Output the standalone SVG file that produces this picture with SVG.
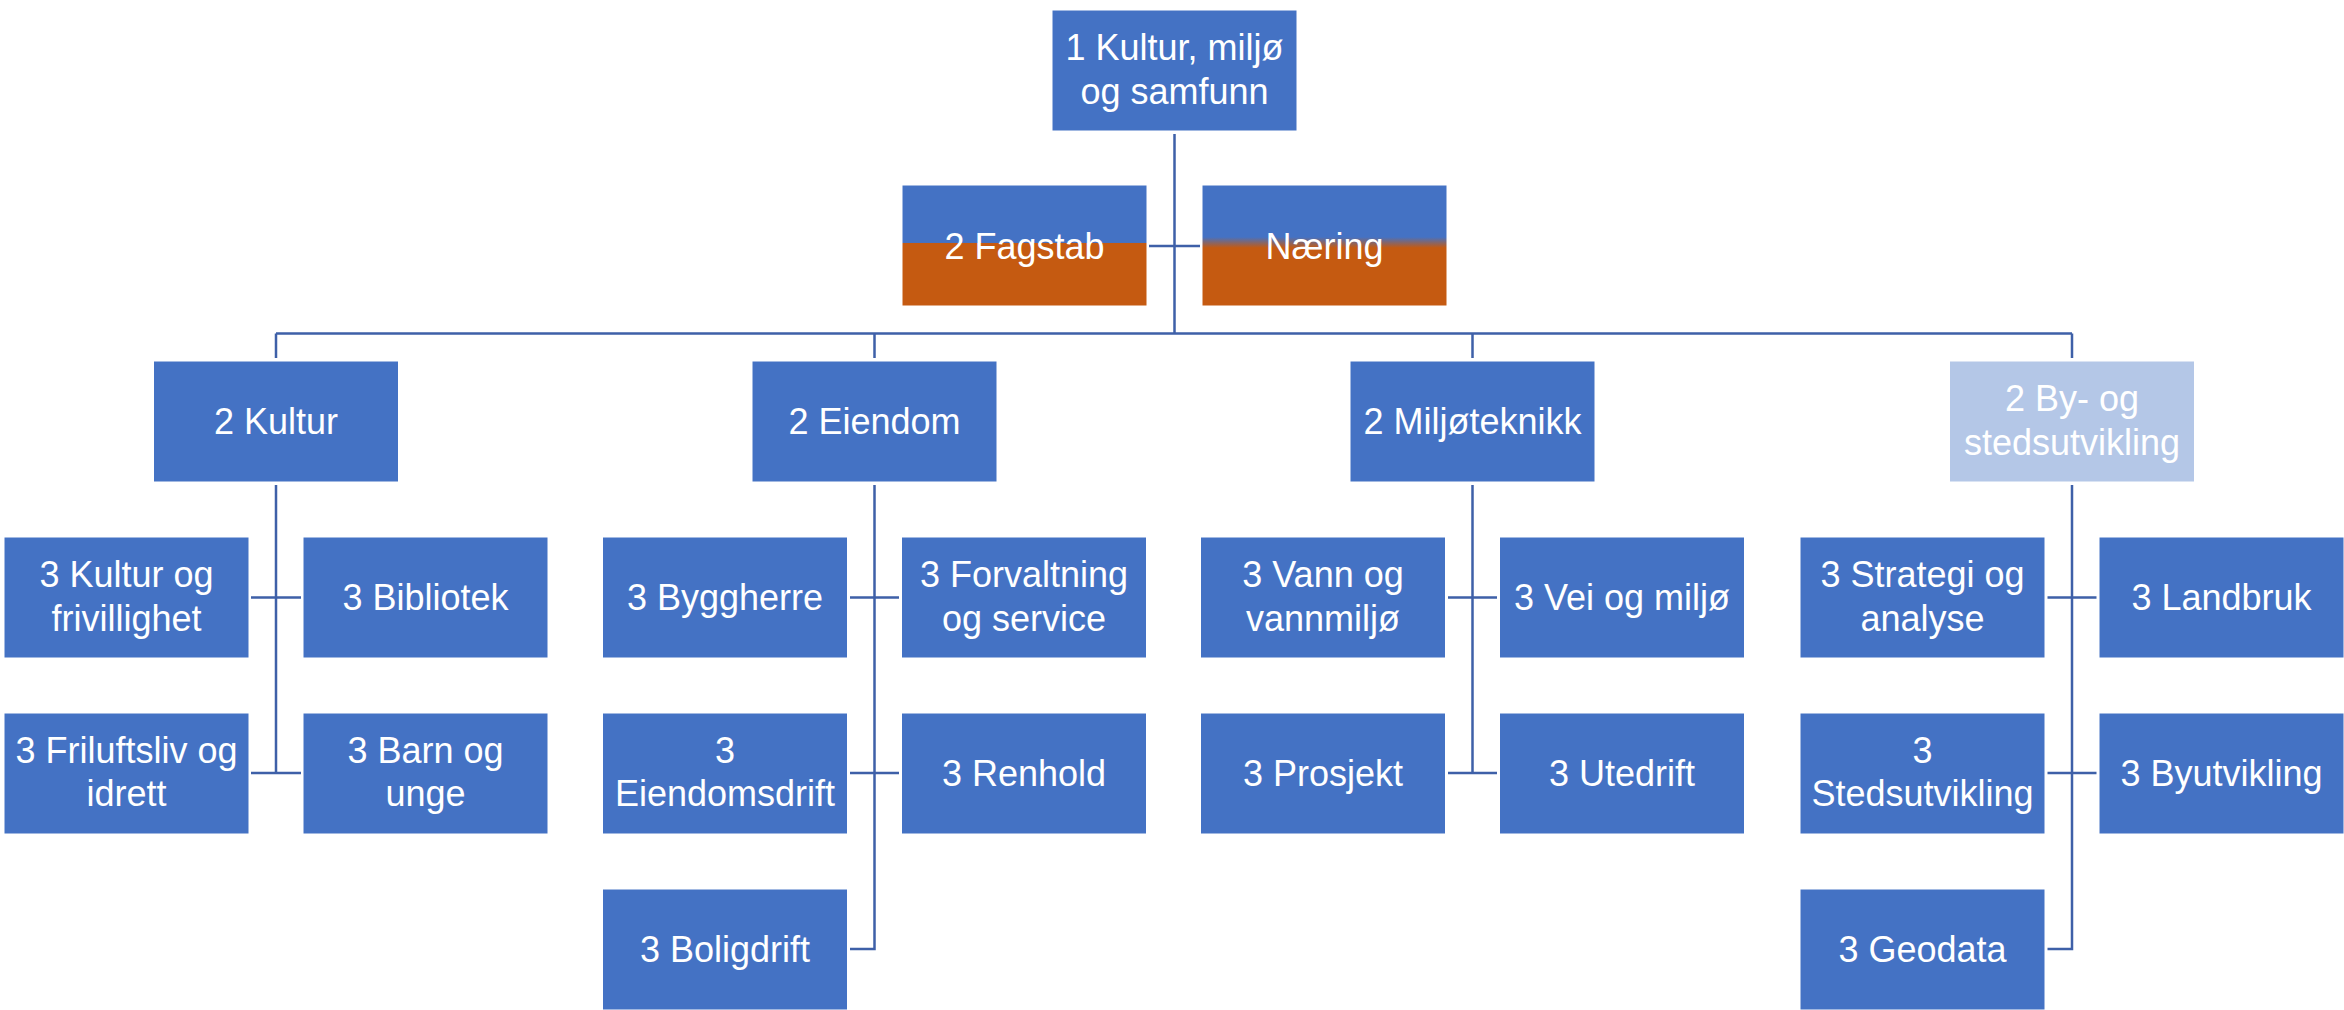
<svg xmlns="http://www.w3.org/2000/svg" width="2344" height="1010" viewBox="0 0 2344 1010">
<defs>
<linearGradient id="gFag" x1="0" y1="0" x2="0" y2="1">
<stop offset="0" stop-color="#4472C4"/><stop offset="0.475" stop-color="#4472C4"/><stop offset="0.48" stop-color="#C55A11"/><stop offset="1" stop-color="#C55A11"/>
</linearGradient>
<linearGradient id="gNaer" x1="0" y1="0" x2="0" y2="1">
<stop offset="0" stop-color="#4472C4"/><stop offset="0.43" stop-color="#4472C4"/><stop offset="0.52" stop-color="#C55A11"/><stop offset="1" stop-color="#C55A11"/>
</linearGradient>
</defs>
<style>
.b{fill:#4472C4;stroke:#ffffff;stroke-width:1}
.lt{fill:#B4C7E7;stroke:#ffffff;stroke-width:1}
.t{font-family:"Liberation Sans",Arial,sans-serif;font-size:36px;fill:#ffffff;text-anchor:middle}
.c{fill:none;stroke:#3E60A8;stroke-width:2.5}
</style>
<g id="connectors">
<path class="c" d="M1174.5 134V333.5M276 333.5H2072M276 333.5V358M874.5 333.5V358M1472.5 333.5V358M2072 333.5V358M1149 246H1200"/>
<path class="c" d="M276 485V773M251 597.5H301M251 773H301"/>
<path class="c" d="M874.5 485V949H850M850 597.5H899M850 773H899"/>
<path class="c" d="M1472.5 485V773M1448 597.5H1497M1448 773H1497"/>
<path class="c" d="M2072 485V949H2047.5M2047.5 597.5H2096.5M2047.5 773H2096.5"/>
</g>
<g id="n-top"><rect class="b" x="1052" y="10" width="245" height="121"/><text class="t" x="1174.5" y="60">1 Kultur, miljø</text><text class="t" x="1174.5" y="103.5">og samfunn</text></g>
<g id="n-fagstab"><rect x="902" y="185" width="245" height="121" fill="url(#gFag)" stroke="#ffffff"/><text class="t" x="1024.5" y="258.5">2 Fagstab</text></g>
<g id="n-naering"><rect x="1202" y="185" width="245" height="121" fill="url(#gNaer)" stroke="#ffffff"/><text class="t" x="1324.5" y="258.5">Næring</text></g>

<g id="n-kultur"><rect class="b" x="153.5" y="361" width="245" height="121"/><text class="t" x="276" y="434">2 Kultur</text></g>
<g id="n-eiendom"><rect class="b" x="752" y="361" width="245" height="121"/><text class="t" x="874.5" y="434">2 Eiendom</text></g>
<g id="n-miljo"><rect class="b" x="1350" y="361" width="245" height="121"/><text class="t" x="1472.5" y="434">2 Miljøteknikk</text></g>
<g id="n-by"><rect class="lt" x="1949.5" y="361" width="245" height="121"/><text class="t" x="2072" y="411">2 By- og</text><text class="t" x="2072" y="454.5">stedsutvikling</text></g>

<g id="n-kultur-frivillighet"><rect class="b" x="4" y="537" width="245" height="121"/><text class="t" x="126.5" y="587">3 Kultur og</text><text class="t" x="126.5" y="630.5">frivillighet</text></g>
<g id="n-bibliotek"><rect class="b" x="303" y="537" width="245" height="121"/><text class="t" x="425.5" y="610">3 Bibliotek</text></g>
<g id="n-friluftsliv"><rect class="b" x="4" y="713" width="245" height="121"/><text class="t" x="126.5" y="762.5">3 Friluftsliv og</text><text class="t" x="126.5" y="806">idrett</text></g>
<g id="n-barn"><rect class="b" x="303" y="713" width="245" height="121"/><text class="t" x="425.5" y="762.5">3 Barn og</text><text class="t" x="425.5" y="806">unge</text></g>

<g id="n-byggherre"><rect class="b" x="602.5" y="537" width="245" height="121"/><text class="t" x="725" y="610">3 Byggherre</text></g>
<g id="n-forvaltning"><rect class="b" x="901.5" y="537" width="245" height="121"/><text class="t" x="1024" y="587">3 Forvaltning</text><text class="t" x="1024" y="630.5">og service</text></g>
<g id="n-eiendomsdrift"><rect class="b" x="602.5" y="713" width="245" height="121"/><text class="t" x="725" y="762.5">3</text><text class="t" x="725" y="806">Eiendomsdrift</text></g>
<g id="n-renhold"><rect class="b" x="901.5" y="713" width="245" height="121"/><text class="t" x="1024" y="786">3 Renhold</text></g>
<g id="n-boligdrift"><rect class="b" x="602.5" y="889" width="245" height="121"/><text class="t" x="725" y="962">3 Boligdrift</text></g>

<g id="n-vann"><rect class="b" x="1200.5" y="537" width="245" height="121"/><text class="t" x="1323" y="587">3 Vann og</text><text class="t" x="1323" y="630.5">vannmiljø</text></g>
<g id="n-vei"><rect class="b" x="1499.5" y="537" width="245" height="121"/><text class="t" x="1622" y="610">3 Vei og miljø</text></g>
<g id="n-prosjekt"><rect class="b" x="1200.5" y="713" width="245" height="121"/><text class="t" x="1323" y="786">3 Prosjekt</text></g>
<g id="n-utedrift"><rect class="b" x="1499.5" y="713" width="245" height="121"/><text class="t" x="1622" y="786">3 Utedrift</text></g>

<g id="n-strategi"><rect class="b" x="1800" y="537" width="245" height="121"/><text class="t" x="1922.5" y="587">3 Strategi og</text><text class="t" x="1922.5" y="630.5">analyse</text></g>
<g id="n-landbruk"><rect class="b" x="2099" y="537" width="245" height="121"/><text class="t" x="2221.5" y="610">3 Landbruk</text></g>
<g id="n-stedsutvikling"><rect class="b" x="1800" y="713" width="245" height="121"/><text class="t" x="1922.5" y="762.5">3</text><text class="t" x="1922.5" y="806">Stedsutvikling</text></g>
<g id="n-byutvikling"><rect class="b" x="2099" y="713" width="245" height="121"/><text class="t" x="2221.5" y="786">3 Byutvikling</text></g>
<g id="n-geodata"><rect class="b" x="1800" y="889" width="245" height="121"/><text class="t" x="1922.5" y="962">3 Geodata</text></g>
</svg>
